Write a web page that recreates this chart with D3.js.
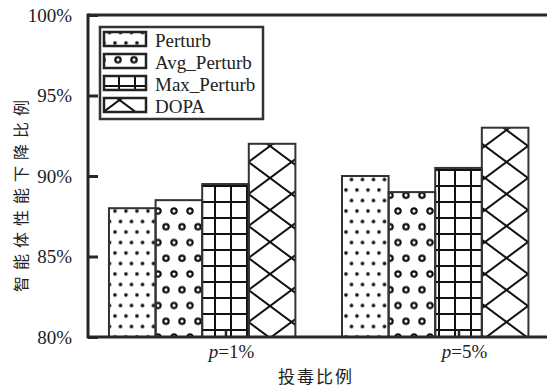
<!DOCTYPE html>
<html>
<head>
<meta charset="utf-8">
<script src="https://cdn.jsdelivr.net/npm/d3@7"></script>
<style>
  html, body { margin: 0; padding: 0; background: #fff; }
  svg { display: block; }
</style>
</head>
<body>
<svg id="chart" width="547" height="391"></svg>
<script>
// Share of agents whose performance dropped, by poisoning ratio and method
const categories = ["p=1%", "p=5%"];
const series = ["Perturb", "Avg_Perturb", "Max_Perturb", "DOPA"];
const values = {
  "Perturb":     [88.0, 90.0],
  "Avg_Perturb": [88.5, 89.0],
  "Max_Perturb": [89.5, 90.5],
  "DOPA":        [92.0, 93.0]
};
const yTicks = [80, 85, 90, 95, 100];
const yTitle = "智能体性能下降比例";
const xTitle = "投毒比例";

const ink = "#262626";
const serif = "'Liberation Serif', 'Times New Roman', serif";
const cjk = "'Noto Sans CJK SC', sans-serif";

const svg = d3.select("#chart");
const defs = svg.append("defs");

const plotLeft = 88, plotTop = 15, plotBottom = 337, plotRight = 596;

const y = d3.scaleLinear().domain([80, 100]).range([plotBottom, plotTop]);
const x = d3.scalePoint().domain(categories).range([plotLeft, plotRight]).padding(0.59);
const barW = x.step() * 0.2;

// ---- hatch patterns ----
function dots(id) {
  const p = defs.append("pattern").attr("id", id)
    .attr("patternUnits", "userSpaceOnUse")
    .attr("x", 115 - 2.75).attr("y", 211 - 2.625)
    .attr("width", 11).attr("height", 21);
  [[2.75, 2.625], [8.25, 13.125]].forEach(([cx, cy]) =>
    p.append("circle").attr("cx", cx).attr("cy", cy).attr("r", 1.8).attr("fill", "#111"));
}
function rings(id) {
  const p = defs.append("pattern").attr("id", id)
    .attr("patternUnits", "userSpaceOnUse")
    .attr("x", 174 - 4).attr("y", 211 - 4)
    .attr("width", 16).attr("height", 31.5);
  [[4, 4], [12, 19.75]].forEach(([cx, cy]) =>
    p.append("circle").attr("cx", cx).attr("cy", cy).attr("r", 2.7)
      .attr("fill", "none").attr("stroke", "#111").attr("stroke-width", 2.2));
}
function grid(id) {
  const p = defs.append("pattern").attr("id", id)
    .attr("patternUnits", "userSpaceOnUse")
    .attr("x", 215 - 8).attr("y", 186 - 8)
    .attr("width", 16).attr("height", 16);
  p.append("path").attr("d", "M8,0V16M0,8H16")
    .attr("stroke", "#111").attr("stroke-width", 2).attr("fill", "none");
}
function cross(id) {
  const w = 43, h = 32;
  const p = defs.append("pattern").attr("id", id)
    .attr("patternUnits", "userSpaceOnUse")
    .attr("x", 270).attr("y", 178)
    .attr("width", w).attr("height", h);
  const d = [
    `M0,0L${w},${h}`, `M0,${-h}L${2 * w},${h}`, `M${-w},0L${w},${2 * h}`,
    `M0,${h}L${w},0`, `M${-w},${h}L${w},${-h}`, `M0,${2 * h}L${2 * w},0`
  ].join("");
  p.append("path").attr("d", d)
    .attr("stroke", "#111").attr("stroke-width", 2).attr("fill", "none");
}
const makers = [dots, rings, grid, cross];
series.forEach((s, i) => makers[i]("hatch-" + i));

// ---- bars ----
const rows = [];
categories.forEach((c, ci) => series.forEach((s, si) =>
  rows.push({ c, s, si, v: values[s][ci] })));

svg.append("g").selectAll("rect").data(rows).join("rect")
  .attr("x", d => x(d.c) + (d.si - 2) * barW - barW / 2)
  .attr("y", d => y(d.v))
  .attr("width", barW)
  .attr("height", d => y(80) - y(d.v))
  .attr("fill", d => `url(#hatch-${d.si})`)
  .attr("stroke", "#333").attr("stroke-width", 2);

// ---- frame and axes ----
const frame = svg.append("g").attr("stroke", ink).attr("fill", "none");
frame.append("line").attr("x1", plotLeft).attr("x2", plotRight).attr("y1", plotTop).attr("y2", plotTop).attr("stroke-width", 3);
frame.append("line").attr("x1", plotLeft).attr("x2", plotRight).attr("y1", plotBottom).attr("y2", plotBottom).attr("stroke-width", 3);
frame.append("line").attr("x1", plotLeft).attr("x2", plotLeft).attr("y1", plotTop - 1.5).attr("y2", plotBottom + 1.5).attr("stroke-width", 3);

const yAxis = d3.axisLeft(y).tickValues(yTicks).tickSizeInner(-10).tickSizeOuter(0)
  .tickPadding(16).tickFormat(d => d + "%");
const gy = svg.append("g").attr("transform", `translate(${plotLeft},0)`).call(yAxis);
gy.select(".domain").remove();
gy.selectAll(".tick line").attr("stroke", ink).attr("stroke-width", 3);
gy.selectAll(".tick text").attr("fill", "#222").style("font-family", serif).style("font-size", "19px");

const xAxis = d3.axisBottom(x).tickSizeInner(-8).tickSizeOuter(0).tickFormat("");
const gx = svg.append("g").attr("transform", `translate(0,${plotBottom})`).call(xAxis);
gx.select(".domain").remove();
gx.selectAll(".tick line").attr("stroke", ink).attr("stroke-width", 2.5);

// category labels with italic p
const catLab = svg.append("g").selectAll("text").data(categories).join("text")
  .attr("x", d => x(d) + 6).attr("y", 358)
  .attr("text-anchor", "middle")
  .attr("fill", "#222").style("font-family", serif).style("font-size", "19px");
catLab.append("tspan").style("font-style", "italic").text(d => d.split("=")[0]);
catLab.append("tspan").text(d => "=" + d.split("=")[1]);

// axis titles
svg.append("text").attr("x", 316).attr("y", 383).attr("text-anchor", "middle")
  .attr("fill", "#222").style("font-family", cjk).style("font-size", "17px")
  .style("letter-spacing", "2px").text(xTitle);
svg.append("text").attr("transform", "translate(27,193) rotate(-90)")
  .attr("text-anchor", "middle").attr("fill", "#222")
  .style("font-family", cjk).style("font-size", "16px")
  .style("letter-spacing", "6px").text(yTitle);

// ---- legend ----
const lg = svg.append("g");
lg.append("rect").attr("x", 100).attr("y", 27).attr("width", 163).attr("height", 92)
  .attr("fill", "#fff").attr("stroke", "#333").attr("stroke-width", 2.5);
const item = lg.selectAll("g.item").data(series).join("g").attr("class", "item")
  .attr("transform", (d, i) => `translate(0,${i * 22})`);
item.append("rect").attr("x", 104).attr("y", 32).attr("width", 42).attr("height", 14)
  .attr("fill", (d, i) => `url(#hatch-${i})`)
  .attr("stroke", "#222").attr("stroke-width", 2.5);
item.append("text").attr("x", 155).attr("y", 46.5)
  .attr("fill", "#222").style("font-family", serif).style("font-size", "19px")
  .text(d => d);
</script>
</body>
</html>
